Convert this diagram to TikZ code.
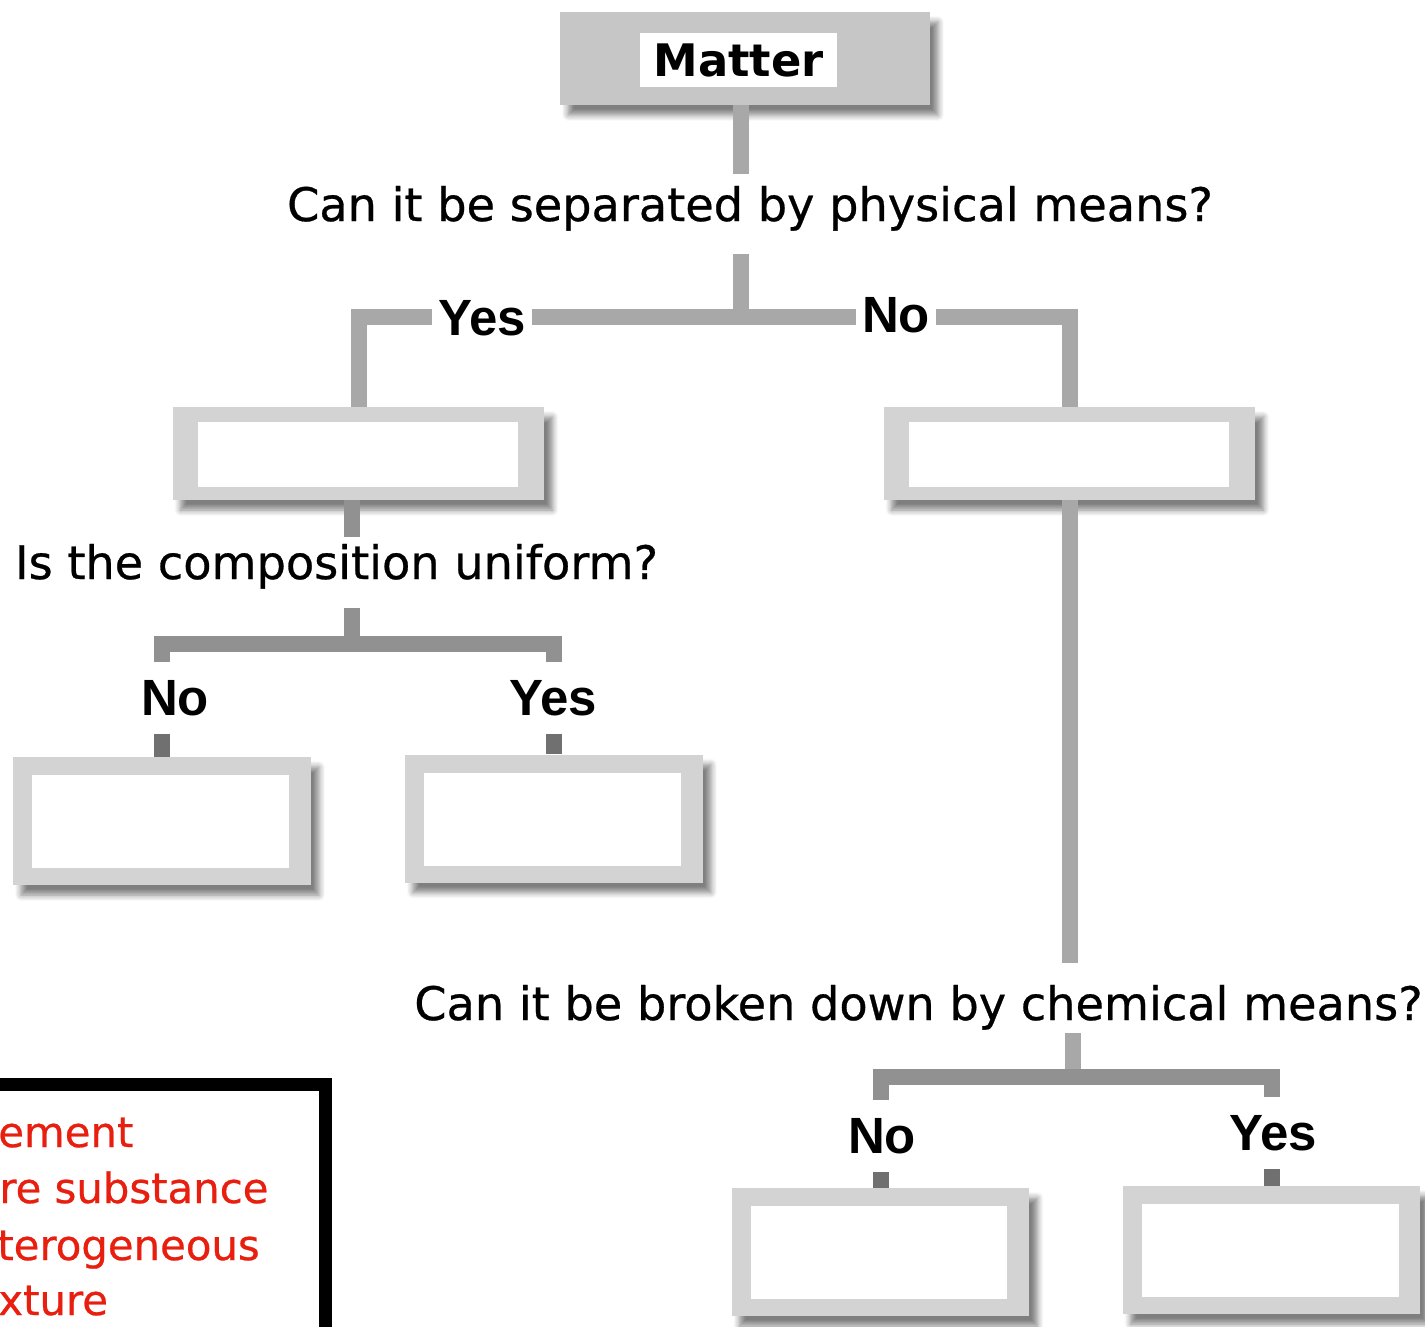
\documentclass[tikz,border=0pt]{standalone}
\usepackage{fontspec}
\setmainfont{DejaVu Sans}
\newfontfamily\answerfont{Liberation Sans}
\newfontfamily\questionfont{DejaVu Sans}[FakeBold=0.6]
\usetikzlibrary{calc,shadows.blur}

\definecolor{linegray}{RGB}{168,168,168}
\definecolor{branchgray}{RGB}{145,145,145}
\definecolor{stubgray}{RGB}{112,112,112}
\definecolor{framegray}{RGB}{211,211,211}
\definecolor{mattergray}{RGB}{198,198,198}
\definecolor{keyred}{RGB}{232,30,14}

\tikzset{
  question/.style={font=\questionfont\fontsize{26.3}{30}\selectfont, inner sep=0pt},
  answer/.style={font=\answerfont\bfseries\fontsize{29}{32}\selectfont, fill=white,
    inner xsep=0.12cm, inner ysep=0.36cm, anchor=base},
  connect/.style={draw=linegray, line width=0.32cm},
  branch/.style={connect, draw=branchgray},
  stub/.style={connect, draw=stubgray},
  slot/.style={fill=framegray, inner sep=0pt,
    blur shadow={shadow xshift=0.16cm, shadow yshift=-0.2cm, shadow blur radius=0.12cm,
      shadow blur steps=6, shadow opacity=50}},
  bigslot/.style={slot, minimum width=7.44cm, minimum height=1.86cm,
    path picture={\fill[white] ($(path picture bounding box.south west)+(0.5cm,0.27cm)$)
      rectangle ($(path picture bounding box.north east)-(0.52cm,0.29cm)$);}},
  smallslot/.style={slot, minimum width=5.96cm, minimum height=2.56cm,
    path picture={\fill[white] ($(path picture bounding box.south west)+(0.38cm,0.34cm)$)
      rectangle ($(path picture bounding box.north east)-(0.44cm,0.36cm)$);}},
  keyframe/.style={draw=black, fill=white, line width=0.26cm, minimum width=8cm, minimum height=6cm},
  keyentry/.style={font=\questionfont\fontsize{23.8}{28}\selectfont, text=keyred, inner sep=0pt, anchor=base west}
}

\begin{document}
\begin{tikzpicture}[x=0.02cm,y=-0.02cm]
    \useasboundingbox (0,0) rectangle (1425,1326);
    \clip (0,0) rectangle (1425,1326);

    % Top of the tree
    \node[slot, fill=mattergray, minimum width=7.4cm, minimum height=1.86cm] (matter) at (745,58.5) {};
    \node[fill=white, minimum width=3.94cm, minimum height=1.08cm,
      font=\bfseries\fontsize{25.5}{28}\selectfont] (mattertitle) at (738.5,60) {Matter};

    % Questions
    \node[question, anchor=base] (q1) at (750,221) {Can it be separated by physical means?};
    \node[question, anchor=base] (q2) at (336.5,579) {Is the composition uniform?};
    \node[question, anchor=base] (q3) at (918.5,1020) {Can it be broken down by chemical means?};

    % Empty boxes
    \node[bigslot] (mixture) at (358.5,453.5) {};
    \node[bigslot] (pure) at (1069.5,453.5) {};
    \node[smallslot] (hetero) at (162,821) {};
    \node[smallslot] (homo) at (554,818.5) {};
    \node[smallslot] (element) at (880.5,1252) {};
    \node[smallslot] (compound) at (1271.5,1250) {};

    % Junctions
    \coordinate (j1) at (741,317);
    \coordinate (j2) at (352,644);
    \coordinate (j3) at (1073,1077);

    % Answers
    \node[answer] (no2) at (175,715) {No};
    \node[answer] (yes2) at (553,715) {Yes};
    \node[answer] (no3) at (882,1153) {No};
    \node[answer] (yes3) at (1273,1150) {Yes};

    % First split
    \draw[connect, shorten >=0.24cm] (j1 |- matter.south) -- (j1 |- q1.north);
    \draw[connect, shorten <=0.46cm] (j1 |- q1.south) -- (j1);
    \draw[connect] (mixture.north) |- (j1) -| (pure.north);
    \node[answer] (yes1) at (482,335) {Yes};
    \node[answer] (no1) at (896,332) {No};

    % Mixture side
    \draw[branch, shorten >=0.14cm] (j2 |- mixture.south) -- (j2 |- q2.north);
    \draw[branch, shorten <=0.38cm] (j2 |- q2.south) -- (j2);
    \draw[branch] (hetero.north |- no2.north) |- (j2) -| (homo.north |- yes2.north);
    \draw[stub] (hetero.north |- no2.south) -- (hetero.north);
    \draw[stub] (homo.north |- yes2.south) -- (homo.north);

    % Pure substance side
    \draw[connect, shorten >=0.44cm] (pure.south) -- (pure.south |- q3.north);
    \draw[connect, shorten <=0.06cm] (j3 |- q3.south) -- (j3);
    \draw[branch] (element.north |- no3.north) |- (j3) -| (compound.north |- yes3.north);
    \draw[stub] (element.north |- no3.south) -- (element.north);
    \draw[stub] (compound.north |- yes3.south) -- (compound.north);

    % Key
    \node[keyframe, anchor=north east] (key) at (332,1078) {};
    \node[keyentry] (key1) at (-2,1147) {ement};
    \node[keyentry] (key2) at (-1,1203) {re substance};
    \node[keyentry] (key3) at (-3,1260) {terogeneous};
    \node[keyentry] (key4) at (-2,1315) {xture};
\end{tikzpicture}
\end{document}
